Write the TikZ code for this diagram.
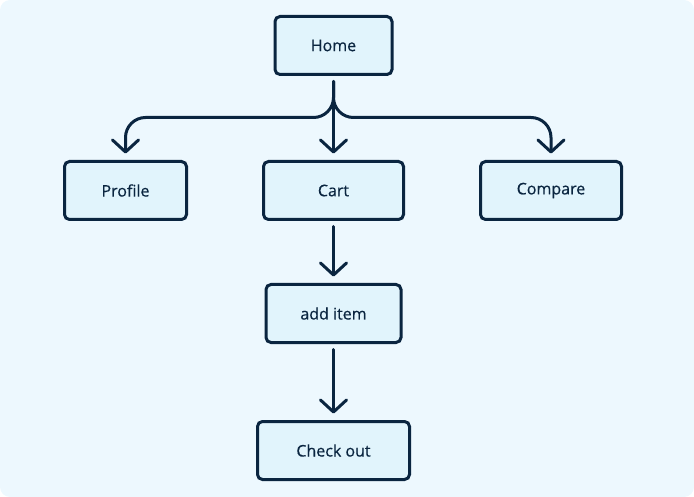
\documentclass[tikz,border=0pt]{standalone}
\usepackage{fontspec}
\setmainfont{Open Sans}
\newfontfamily\labelfont{Open Sans}[FakeBold=0.5]
\usetikzlibrary{arrows.meta,positioning}

\definecolor{navy}{HTML}{0A2540}
\definecolor{boxfill}{HTML}{E1F4FC}
\definecolor{pagefill}{HTML}{EDF8FE}

\tikzset{
	page/.style={fill=pagefill, rounded corners=10pt},
	block/.style={draw=navy, fill=boxfill, text=navy, rounded corners=5pt,
		line width=3pt, minimum height=58pt, outer sep=0pt,
		font=\labelfont\fontsize{16}{19}\selectfont},
	link/.style={draw=navy, line width=3pt, line cap=round,
		shorten <=7pt, shorten >=8pt}
}

\begin{document}
\begin{tikzpicture}[>={Straight Barb[length=12pt,width=26pt,round]}, x=1pt, y=-1pt, node distance=77pt]
	\fill [page] (0,0) rectangle (694,497);

	% Nodes {home, profile, cart, compare, additem, checkout}
	\node [block, minimum width=117pt]  (home)     at (333.5,45.5)      {Home};
	\node [block, minimum width=140pt]  (cart)     [below=87pt of home]   {Cart};
	\node [block, minimum width=122pt]  (profile)  [left=of cart]         {Profile};
	\node [block, minimum width=141pt]  (compare)  [right=of cart]        {Compare};
	\node [block, minimum width=135pt]  (additem)  [below=65pt of cart]   {add item};
	\node [block, minimum width=152pt]  (checkout) [below=79pt of additem] {Check out};

	% Paths
	\draw [link, ->, rounded corners=20pt] (home.south) -- ++(0,43) -| (profile.north);
	\draw [link, ->, rounded corners=20pt] (home.south) -- ++(0,43) -| (compare.north);
	\path [link, ->] (home)    edge (cart)
	                 (cart)    edge (additem)
	                 (additem) edge (checkout);
\end{tikzpicture}
\end{document}
